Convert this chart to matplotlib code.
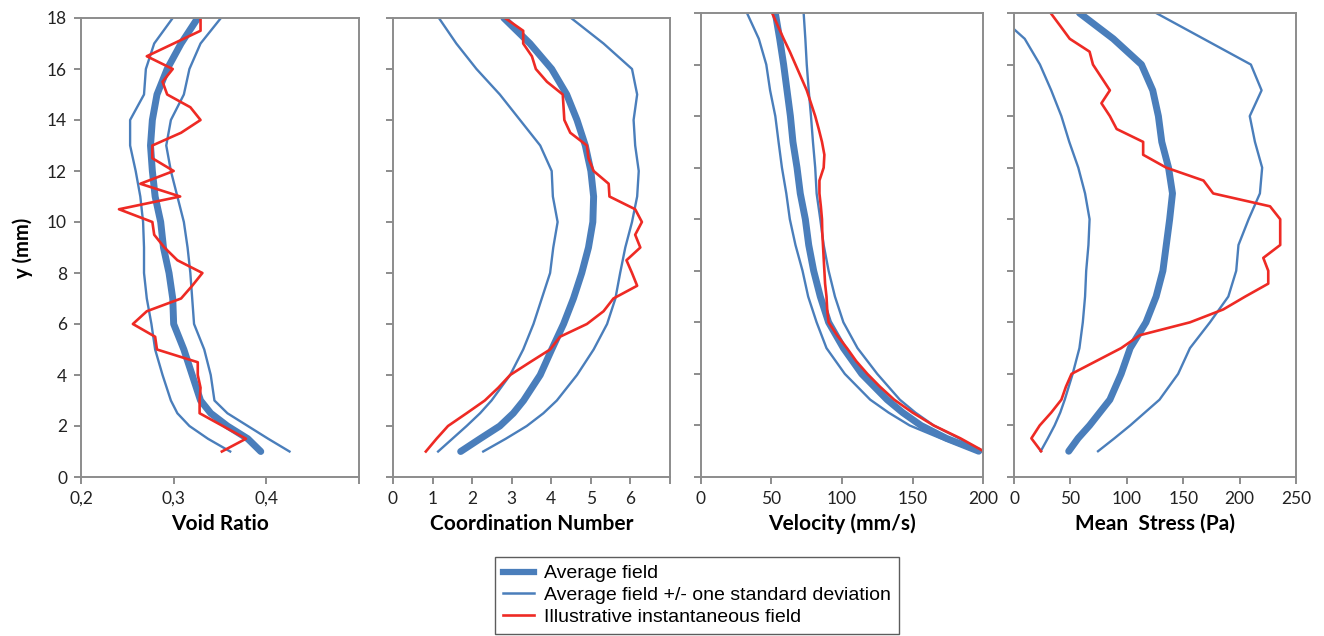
import numpy as np
import matplotlib
matplotlib.use("Agg")
from matplotlib import pyplot as plt
from matplotlib.lines import Line2D

# depth (mm)
y_avg = [1, 1.5, 2, 2.5, 3, 4, 5, 6, 7, 8, 9, 10, 11, 12, 13, 14, 15, 16, 17, 18]
y_half = [1, 1.5, 2, 2.5, 3, 3.5, 4, 4.5, 5, 5.5, 6, 6.5, 7, 7.5, 8, 8.5, 9, 9.5,
          10, 10.5, 11, 11.5, 12, 12.5, 13, 13.5, 14, 14.5, 15, 15.5, 16, 16.5, 17, 17.5, 18]

# ----- void ratio -----
void_avg = [0.394, 0.380, 0.358, 0.340, 0.329, 0.320, 0.311, 0.300, 0.299, 0.295, 0.289,
            0.286, 0.280, 0.277, 0.275, 0.277, 0.282, 0.293, 0.308, 0.326]
void_lo = [0.361, 0.337, 0.317, 0.304, 0.297, 0.288, 0.280, 0.276, 0.271, 0.268, 0.268,
           0.267, 0.264, 0.259, 0.253, 0.253, 0.268, 0.270, 0.279, 0.299]
void_hi = [0.425, 0.402, 0.380, 0.358, 0.344, 0.340, 0.333, 0.322, 0.320, 0.318, 0.315,
           0.311, 0.304, 0.297, 0.292, 0.297, 0.311, 0.317, 0.329, 0.351]
void_inst = [0.352, 0.378, 0.353, 0.328, 0.328, 0.329, 0.326, 0.326, 0.282, 0.280, 0.256,
             0.271, 0.308, 0.320, 0.331, 0.304, 0.290, 0.279, 0.277, 0.241, 0.307, 0.264,
             0.300, 0.277, 0.277, 0.308, 0.329, 0.318, 0.293, 0.288, 0.299, 0.271, 0.300,
             0.329, 0.329]

# ----- coordination number -----
coord_avg = [1.71, 2.20, 2.70, 3.04, 3.30, 3.72, 4.01, 4.31, 4.56, 4.77, 4.94, 5.05, 5.07,
             5.00, 4.86, 4.65, 4.39, 4.01, 3.46, 2.80]
coord_lo = [1.14, 1.50, 1.86, 2.20, 2.49, 2.96, 3.29, 3.55, 3.76, 3.97, 4.05, 4.16, 4.04,
            4.01, 3.72, 3.21, 2.70, 2.11, 1.60, 1.16]
coord_hi = [2.28, 2.85, 3.38, 3.80, 4.14, 4.65, 5.07, 5.41, 5.62, 5.74, 5.87, 6.04, 6.17,
            6.21, 6.12, 6.08, 6.17, 6.04, 5.32, 4.50]
coord_inst = [0.83, 1.10, 1.39, 1.86, 2.32, 2.66, 2.96, 3.46, 3.97, 4.22, 4.90, 5.32, 5.57,
              6.17, 6.04, 5.90, 6.25, 6.12, 6.29, 6.12, 5.47, 5.45, 5.07, 4.94, 4.90, 4.48,
              4.33, 4.31, 4.29, 3.89, 3.61, 3.51, 3.29, 3.29, 2.83]

# ----- velocity (mm/s) -----
vel_avg = [197, 174, 156, 143, 132, 114, 101, 90.5, 84.6, 79.9, 76.4, 74, 70.4, 68.1, 65.2,
           63.4, 61, 58.6, 55.8, 52.7]
vel_lo = [194.6, 170, 148, 133, 120, 102, 89, 82, 76, 72, 67, 63, 60.5, 57.4, 55, 52.7, 49,
          46.3, 41, 32.6]
vel_hi = [199, 183, 165, 152, 141, 125, 111, 101, 95, 90.5, 87, 84.6, 82, 81, 79.4, 78, 76.4,
          75, 74, 72.8]
vel_inst = [200.5, 184, 165, 150, 137, 127, 118, 110, 103.5, 96.5, 90.5, 89.5, 89, 88, 87.5,
            87, 86.5, 86, 85.8, 85, 84, 84, 87, 87.5, 85.8, 83.5, 81, 78, 75, 71, 67, 63,
            58.6, 54.5, 50.4]

# ----- mean stress (Pa) -----
stress_avg = [48.5, 56.8, 67, 76, 85, 95, 103, 117, 126, 132, 135, 138, 140.5, 137, 131, 128,
              123, 113, 88, 58]
stress_lo = [23.7, 30, 36, 41, 45, 52, 58, 61, 63, 64, 66, 67, 63, 57, 49, 42, 33, 23, 9.5, -16]
stress_hi = [74.5, 89, 103, 116, 129, 145.5, 156, 173.7, 190, 197, 199, 208, 218, 220, 213.6,
             209, 219.5, 210, 168, 126]
stress_inst = [24, 15.4, 22.8, 33, 42, 46, 51, 73, 95, 111.5, 156, 185.5, 205, 225.4, 225.4,
               221, 236, 236, 236, 227, 176.6, 168, 135, 114.5, 114.5, 91, 85, 77.5, 85, 77.5,
               70, 67, 49.4, 41, 32.5]

BLUE = "#4a7ebb"
RED = "#ee2a24"
GREY = "#8c8c8c"

plt.rcParams["font.family"] = ["Lato", "DejaVu Sans"]

W, H = 1324, 636
fig = plt.figure(figsize=(W / 100, H / 100), dpi=100)

def add_panel(x0, x1, top, bottom=477):
    return fig.add_axes([x0 / W, (H - bottom) / H, (x1 - x0) / W, (bottom - top) / H])

panels = [
    (add_panel(81, 359, 18), void_avg, void_lo, void_hi, void_inst, (0.2, 0.5),
     [0.2, 0.3, 0.4, 0.5], ["0,2", "0,3", "0,4", ""], "Void Ratio"),
    (add_panel(393, 670, 18), coord_avg, coord_lo, coord_hi, coord_inst, (0, 7),
     list(range(8)), ["0", "1", "2", "3", "4", "5", "6", ""], "Coordination Number"),
    (add_panel(701, 983, 13), vel_avg, vel_lo, vel_hi, vel_inst, (0, 200),
     [0, 50, 100, 150, 200], ["0", "50", "100", "150", "200"], "Velocity (mm/s)"),
    (add_panel(1014, 1296, 13), stress_avg, stress_lo, stress_hi, stress_inst, (0, 250),
     [0, 50, 100, 150, 200, 250], ["0", "50", "100", "150", "200", "250"], "Mean  Stress (Pa)"),
]

for i, (ax, avg, lo, hi, inst, xlim, xt, xtl, xlabel) in enumerate(panels):
    ax.plot(lo, y_avg, color=BLUE, lw=1.7, solid_joinstyle="round")
    ax.plot(hi, y_avg, color=BLUE, lw=1.7, solid_joinstyle="round")
    ax.plot(avg, y_avg, color=BLUE, lw=5, solid_capstyle="round")
    ax.plot(inst, y_half, color=RED, lw=1.9)
    ax.set_xlim(*xlim)
    ax.set_ylim(0, 18)
    ax.set_xticks(xt)
    ax.set_xticklabels(xtl)
    ax.set_yticks(range(0, 19, 2))
    if i == 0:
        ax.set_ylabel("y (mm)", fontsize=14.5, fontweight="bold", labelpad=10)
    else:
        ax.set_yticklabels([])
    ax.set_xlabel(xlabel, fontsize=15, fontweight="bold", labelpad=5)
    for s in ax.spines.values():
        s.set_color(GREY)
        s.set_linewidth(1.4)
    ax.tick_params(direction="out", length=5, width=1.4, color=GREY, labelsize=12.5,
                   labelcolor="#222222", pad=5)

handles = [
    Line2D([], [], color=BLUE, lw=4.5),
    Line2D([], [], color=BLUE, lw=1.8),
    Line2D([], [], color=RED, lw=1.9),
]
labels = ["Average field", "Average field +/- one standard deviation",
          "Illustrative instantaneous field"]
leg = fig.legend(handles, labels, loc="upper center", bbox_to_anchor=(697 / W, 1 - 557 / H),
                 frameon=True, fancybox=False, edgecolor="#333333",
                 prop={"family": "Liberation Sans", "size": 14}, handlelength=1.6,
                 handletextpad=0.5, labelspacing=0.22, borderpad=0.4, borderaxespad=0)
leg.get_frame().set_linewidth(1.0)

fig.savefig("out.png", dpi=100)
